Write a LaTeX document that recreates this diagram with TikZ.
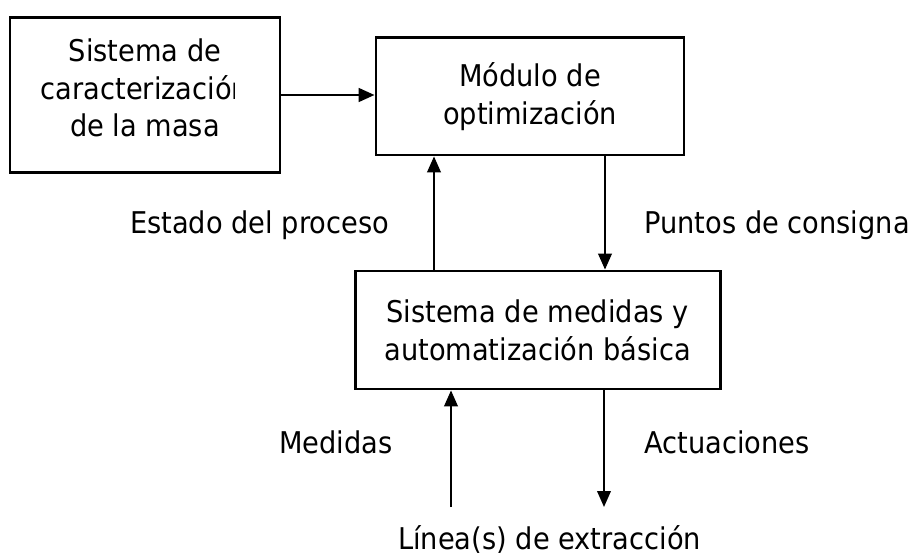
\documentclass[tikz,border=0pt]{standalone}
\usepackage{fontspec}
\setmainfont{DejaVu Sans}[FakeStretch=0.91]
\usepackage{tikz}
\usetikzlibrary{positioning}
\usetikzlibrary{arrows.meta}
\usetikzlibrary{calc}

\begin{document}
\begin{tikzpicture}[
    block/.style={align=center, rectangle, draw=black, line width=2pt, fill=white},
    arr/.style={-{Triangle[length=0.4cm, width=0.34cm]}, line width=1.4pt},
    every node/.style={font=\fontsize{21.3}{27}\selectfont}
]
    \useasboundingbox (0,0) rectangle (23.05,-13.975);

    % Mass characterisation
    \node[block, minimum width=6.75cm, minimum height=3.875cm] (masa) at (3.625,-2.375) {};
    \node[anchor=base] (masa1) at (3.625,-1.55) {Sistema de};
    \begin{scope}
        \clip ($(masa.south west)+(0.1,0.1)$) rectangle ($(masa.north west)+(5.64,-0.1)$);
        \node[anchor=base] (masa2) at (3.625,-2.5) {caracterización};
    \end{scope}
    \node[anchor=base] (masa3) at (3.625,-3.425) {de la masa};

    % Optimisation module
    \node[block, minimum width=7.7cm, minimum height=2.93cm] (opt) at (13.25,-2.41) {Módulo de\\optimización};

    % Measurement system
    \node[block, minimum width=9.125cm, minimum height=2.95cm] (auto) at (13.44,-8.25) {Sistema de medidas y\\automatización básica};

    % Connections
    \draw[arr, line width=2pt] (masa.east) -- (masa.east -| opt.west);
    \draw[arr] (auto.north -| 10.85,0) -- (opt.south -| 10.85,0);
    \draw[arr] (opt.south -| 15.125,0) -- (auto.north -| 15.125,0);

    \coordinate (in) at (11.275,-12.675);
    \coordinate (out) at (15.1,-12.675);
    \draw[arr] (in) -- (auto.south -| in);
    \draw[arr] (auto.south -| out) -- (out);

    % Labels
    \node[anchor=base] (estado) at (6.49,-5.85) {Estado del proceso};
    \node[anchor=base] (puntos) at (19.425,-5.85) {Puntos de consigna};
    \node[anchor=base] (medidas) at (8.4,-11.325) {Medidas};
    \node[anchor=base] (actua) at (18.175,-11.325) {Actuaciones};
    \node[anchor=base] (linea) at (13.74,-13.725) {Línea(s) de extracción};
\end{tikzpicture}
\end{document}
